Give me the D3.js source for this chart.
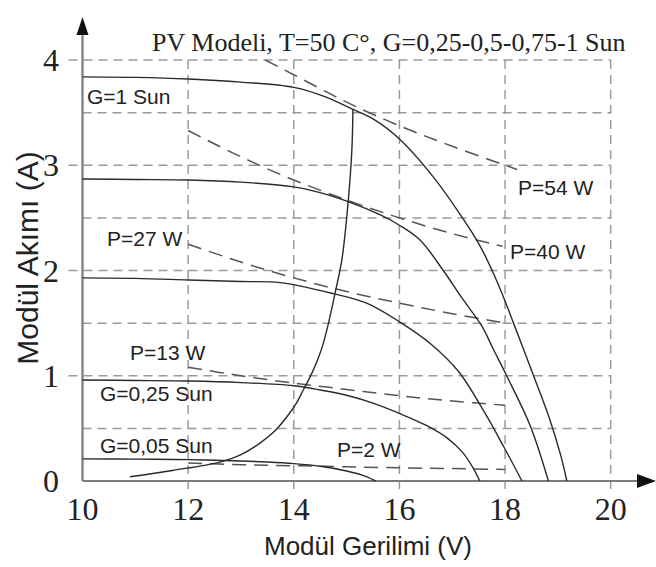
<!DOCTYPE html>
<html>
<head>
<meta charset="utf-8">
<script src="https://cdn.jsdelivr.net/npm/d3@7"></script>
<style>
  html, body { margin: 0; padding: 0; background: #fff; }
  svg { display: block; }
</style>
</head>
<body>
<svg id="chart" width="656" height="567"></svg>
<script>
// I–V curves of the PV module at T = 50 °C for several irradiance levels
const voltageTicks = [10, 12, 14, 16, 18, 20];
const currentTicks = [0, 1, 2, 3, 4];

const curveG1 = [[10,3.84],[11,3.835],[12,3.82],[13,3.79],[14,3.74],[14.6,3.65],[15.12,3.53],[15.5,3.44],[16.0,3.25],[16.64,2.89],[17.18,2.51],[17.53,2.23],[17.87,1.87],[18.16,1.5],[18.54,1.0],[18.85,0.58],[19.05,0.25],[19.17,0]];
const curveG075 = [[10,2.87],[11,2.865],[12,2.86],[13,2.84],[14,2.795],[14.5,2.74],[15.03,2.655],[15.63,2.53],[16.0,2.43],[16.39,2.29],[16.83,2.0],[17.21,1.72],[17.55,1.48],[17.8,1.23],[18.03,1.0],[18.48,0.52],[18.82,0]];
const curveG05 = [[10,1.93],[11,1.925],[12,1.91],[13,1.895],[13.74,1.885],[14.75,1.78],[15.38,1.69],[16.01,1.51],[16.6,1.3],[17.12,1.04],[17.59,0.67],[17.97,0.33],[18.32,0]];
const curveG025 = [[10,0.96],[11,0.955],[12,0.95],[13,0.935],[14,0.905],[14.5,0.865],[15,0.815],[15.5,0.74],[16.01,0.64],[16.5,0.53],[16.9,0.41],[17.2,0.27],[17.4,0.12],[17.52,0]];
const curveG005 = [[10,0.21],[11,0.208],[12,0.203],[13,0.19],[13.5,0.18],[14,0.165],[14.5,0.14],[15,0.095],[15.3,0.055],[15.55,0]];

// locus of maximum power points
const mppLocus = [[10.9,0.04],[11.7,0.1],[12.6,0.18],[13.0,0.25],[13.36,0.36],[13.65,0.48],[13.87,0.61],[14.05,0.74],[14.18,0.865],[14.3,0.98],[14.45,1.15],[14.56,1.31],[14.68,1.55],[14.78,1.78],[14.91,2.1],[15.03,2.655],[15.1,3.15],[15.12,3.53]];

// constant-power lines
const power54 = [[13.46,4.0],[14,3.86],[15,3.6],[16,3.375],[17,3.18],[18.23,2.96]];
const power40 = [[12,3.33],[13,3.08],[14,2.86],[15,2.67],[16,2.5],[17,2.35],[17.95,2.23]];
const power27 = [[12,2.25],[13,2.08],[14,1.93],[15,1.8],[16,1.69],[17,1.59],[18,1.5]];
const power13 = [[12,1.08],[13,1.0],[14,0.93],[15,0.87],[16,0.81],[17,0.76],[18,0.72]];
const power2 = [[12,0.17],[13,0.155],[14,0.145],[15,0.135],[16,0.125],[17,0.118],[18,0.11]];

const labelTexts = ["G=1 Sun", "P=54 W", "P=40 W", "P=27 W", "P=13 W", "G=0,25 Sun", "G=0,05 Sun", "P=2 W"];
const titleText = "PV Modeli, T=50 C°, G=0,25-0,5-0,75-1 Sun";
const xTitle = "Modül Gerilimi (V)";
const yTitle = "Modül Akımı (A)";

const svg = d3.select("#chart");
const x = d3.scaleLinear().domain([10, 20]).range([82.5, 610.7]);
const y = d3.scaleLinear().domain([0, 4]).range([481, 60]);

const gridColor = "#9a9a9a";
const grid = svg.append("g").attr("fill", "none").attr("stroke", gridColor)
  .attr("stroke-width", 1.5).attr("stroke-dasharray", "9,6");

// horizontal grid every 0.5 A; whole amperes run out past the axis as ticks
d3.range(0.5, 4.01, 0.5).forEach(v => {
  const whole = Math.abs(v - Math.round(v)) < 1e-6;
  grid.append("line")
    .attr("x1", whole ? x(10) - 14 : x(10)).attr("x2", x(20))
    .attr("y1", y(v)).attr("y2", y(v));
});
// vertical grid every 2 V, extending below the voltage axis
voltageTicks.slice(1).forEach(v => {
  grid.append("line")
    .attr("x1", x(v)).attr("x2", x(v))
    .attr("y1", y(4)).attr("y2", y(0) + 11);
});

// axes with arrowheads
const axisColor = "#7a7a7a";
svg.append("line").attr("x1", x(10)).attr("x2", 640).attr("y1", y(0)).attr("y2", y(0))
  .attr("stroke", axisColor).attr("stroke-width", 2.2);
svg.append("line").attr("x1", x(10)).attr("x2", x(10)).attr("y1", y(0)).attr("y2", 32)
  .attr("stroke", axisColor).attr("stroke-width", 2.2);
svg.append("path").attr("d", `M656,${y(0)} L637,${y(0) - 7} L637,${y(0) + 7} Z`).attr("fill", "#111");
svg.append("path").attr("d", `M${x(10)},17 L${x(10) - 6},35 L${x(10) + 6},35 Z`).attr("fill", "#111");

// tick labels
const tickFont = "'Liberation Serif', 'Times New Roman', serif";
svg.append("g").selectAll("text").data(voltageTicks).join("text")
  .attr("x", d => x(d)).attr("y", 520)
  .attr("text-anchor", "middle")
  .attr("font-family", tickFont).attr("font-size", 32).attr("fill", "#222")
  .text(d => d);
svg.append("g").selectAll("text").data(currentTicks).join("text")
  .attr("x", 59).attr("y", d => y(d) + 11)
  .attr("text-anchor", "end")
  .attr("font-family", tickFont).attr("font-size", 32).attr("fill", "#222")
  .text(d => d);

// constant-power lines (dashed)
const line = d3.line().x(d => x(d[0])).y(d => y(d[1])).curve(d3.curveCatmullRom.alpha(0.5));
const dashed = svg.append("g").attr("fill", "none").attr("stroke", "#555")
  .attr("stroke-width", 1.5).attr("stroke-dasharray", "14,8");
[power54, power40, power27, power13, power2].forEach(p => dashed.append("path").attr("d", line(p)));

// I–V curves and MPP locus
const solid = svg.append("g").attr("fill", "none").attr("stroke", "#2a2a2a").attr("stroke-width", 1.4);
[curveG1, curveG075, curveG05, curveG025, curveG005].forEach(c => solid.append("path").attr("d", line(c)));
solid.append("path").attr("d", line(mppLocus));

// annotations
const sans = "'Liberation Sans', Arial, sans-serif";
const labelPos = [[87,104],[518,195],[510,259],[107,246],[130,360],[100,401],[100,453],[337,457]];
svg.append("g").selectAll("text").data(labelTexts).join("text")
  .attr("x", (d, i) => labelPos[i][0]).attr("y", (d, i) => labelPos[i][1])
  .attr("font-family", sans).attr("font-size", 21).attr("fill", "#222")
  .text(d => d);

svg.append("text").attr("x", 152).attr("y", 51)
  .attr("font-family", tickFont).attr("font-size", 26).attr("fill", "#222")
  .text(titleText);

svg.append("text").attr("x", 368).attr("y", 555).attr("text-anchor", "middle")
  .attr("font-family", sans).attr("font-size", 26).attr("fill", "#222")
  .text(xTitle);

svg.append("text").attr("transform", "translate(38,258) rotate(-90)").attr("text-anchor", "middle")
  .attr("font-family", sans).attr("font-size", 30).attr("fill", "#222")
  .text(yTitle);
</script>
</body>
</html>
